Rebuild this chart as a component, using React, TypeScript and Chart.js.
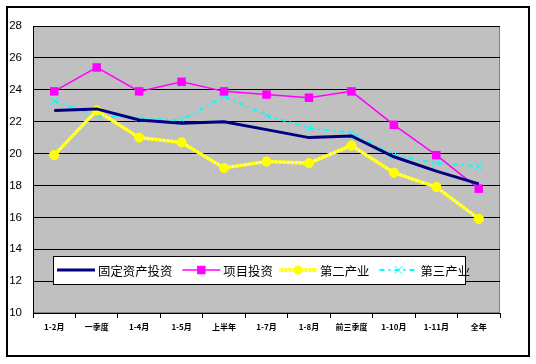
import React, { useEffect, useRef } from 'react';
import { Chart, registerables } from 'chart.js';

Chart.register(...registerables);

const categories = ['1-2月', '一季度', '1-4月', '1-5月', '上半年', '1-7月', '1-8月', '前三季度', '1-10月', '1-11月', '全年'];
const fixedAsset = [22.7, 22.8, 22.1, 21.9, 22.0, 21.5, 21.0, 21.1, 19.8, 18.9, 18.1];
const project = [23.9, 25.4, 23.9, 24.5, 23.9, 23.7, 23.5, 23.9, 21.8, 19.9, 17.8];
const secondary = [19.9, 22.7, 21.0, 20.7, 19.1, 19.5, 19.4, 20.5, 18.8, 17.9, 15.9];
const tertiary = [23.3, 22.4, 22.2, 22.1, 23.6, 22.4, 21.6, 21.3, 19.9, 19.4, 19.2];
const seriesNames = ['固定资产投资', '项目投资', '第二产业', '第三产业'];
const yMin = 10;
const yMax = 28;
const yStep = 2;

const CJK = '"Noto Sans CJK SC", "DejaVu Sans", sans-serif';

function drawMarker(ctx: CanvasRenderingContext2D, style: string, x: number, y: number, r: number, color: string) {
  ctx.save();
  ctx.fillStyle = color;
  ctx.strokeStyle = color;
  ctx.lineWidth = 1;
  ctx.setLineDash([]);
  if (style === 'rect') {
    const s = Math.SQRT1_2 * r;
    ctx.fillRect(x - s, y - s, 2 * s, 2 * s);
  } else if (style === 'circle') {
    ctx.beginPath();
    ctx.arc(x, y, r, 0, Math.PI * 2);
    ctx.fill();
  } else if (style === 'crossRot') {
    const s = Math.SQRT1_2 * r;
    ctx.beginPath();
    ctx.moveTo(x - s, y - s);
    ctx.lineTo(x + s, y + s);
    ctx.moveTo(x - s, y + s);
    ctx.lineTo(x + s, y - s);
    ctx.stroke();
  }
  ctx.restore();
}

const backgroundPlugin = {
  id: 'bgPlot',
  beforeDraw(chart: any) {
    const { ctx, chartArea: a } = chart;
    ctx.save();
    ctx.fillStyle = '#ffffff';
    ctx.fillRect(0, 0, chart.width, chart.height);
    ctx.strokeStyle = '#000000';
    ctx.lineWidth = 2;
    ctx.strokeRect(7, 7, 522, 349);
    ctx.fillStyle = '#C0C0C0';
    ctx.fillRect(a.left, a.top, a.right - a.left, a.bottom - a.top);
    ctx.strokeStyle = '#808080';
    ctx.lineWidth = 1;
    ctx.strokeRect(a.left + 0.5, a.top + 0.5, a.right - a.left - 1, a.bottom - a.top - 1);
    ctx.restore();
  },
};

const yellowOverlayPlugin = {
  id: 'yellowOverlay',
  afterDatasetDraw(chart: any, args: any) {
    if (args.index !== 2) return;
    const { ctx } = chart;
    const pts = args.meta.data;
    ctx.save();
    ctx.strokeStyle = '#ffffff';
    ctx.lineWidth = 1.2;
    ctx.setLineDash([2, 2]);
    ctx.beginPath();
    pts.forEach((p: any, i: number) => {
      if (i === 0) ctx.moveTo(p.x, p.y);
      else ctx.lineTo(p.x, p.y);
    });
    ctx.stroke();
    ctx.restore();
    pts.forEach((p: any) => p.draw(ctx, chart.chartArea));
  },
};

const legendPlugin = {
  id: 'boxLegend',
  afterDraw(chart: any) {
    const { ctx, chartArea: a } = chart;
    const bx = a.left + 20;
    const by = a.top + 230;
    const bw = 412;
    const bh = 28;
    ctx.save();
    ctx.fillStyle = '#ffffff';
    ctx.fillRect(bx, by, bw, bh);
    ctx.strokeStyle = '#000000';
    ctx.lineWidth = 1;
    ctx.strokeRect(bx + 0.5, by + 0.5, bw, bh);
    const cy = by + bh / 2;
    ctx.font = `12.4px ${CJK}`;
    ctx.textBaseline = 'middle';
    let x = bx + 4;
    chart.data.datasets.forEach((ds: any, i: number) => {
      const sampleLen = 38;
      ctx.save();
      ctx.strokeStyle = ds.borderColor;
      ctx.lineWidth = ds.borderWidth;
      ctx.setLineDash(ds.borderDash || []);
      ctx.beginPath();
      ctx.moveTo(x, cy);
      ctx.lineTo(x + sampleLen, cy);
      ctx.stroke();
      if (i === 2) {
        ctx.strokeStyle = '#ffffff';
        ctx.lineWidth = 1.2;
        ctx.setLineDash([2, 2]);
        ctx.beginPath();
        ctx.moveTo(x, cy);
        ctx.lineTo(x + sampleLen, cy);
        ctx.stroke();
      }
      ctx.restore();
      if (ds.pointRadius > 0) {
        drawMarker(ctx, ds.pointStyle, x + sampleLen / 2, cy, ds.pointRadius, ds.borderColor);
      }
      x += sampleLen + 3;
      ctx.fillStyle = '#000000';
      ctx.fillText(ds.label, x, cy + 1);
      x += ctx.measureText(ds.label).width + (i === 1 ? 6 : 10);
    });
    ctx.restore();
  },
};

export default function App() {
  const canvasRef = useRef<HTMLCanvasElement | null>(null);

  useEffect(() => {
    const canvas = canvasRef.current;
    if (!canvas) return;
    const chart = new Chart(canvas, {
      type: 'line',
      data: {
        labels: categories,
        datasets: [
          {
            label: seriesNames[0],
            data: fixedAsset,
            borderColor: '#000080',
            backgroundColor: '#000080',
            borderWidth: 3,
            pointRadius: 0,
            pointStyle: 'circle',
            tension: 0,
          },
          {
            label: seriesNames[1],
            data: project,
            borderColor: '#FF00FF',
            backgroundColor: '#FF00FF',
            borderWidth: 1.5,
            pointRadius: 6,
            pointStyle: 'rect',
            pointBorderWidth: 0,
            tension: 0,
          },
          {
            label: seriesNames[2],
            data: secondary,
            borderColor: '#FFFF00',
            backgroundColor: '#FFFF00',
            borderWidth: 3.5,
            pointRadius: 4.5,
            pointStyle: 'circle',
            pointBorderWidth: 1,
            tension: 0,
          },
          {
            label: seriesNames[3],
            data: tertiary,
            borderColor: '#00FFFF',
            backgroundColor: '#00FFFF',
            borderWidth: 2,
            borderDash: [5, 4, 2, 4],
            pointRadius: 5.5,
            pointStyle: 'crossRot',
            pointBorderWidth: 1,
            tension: 0,
          },
        ] as any,
      },
      options: {
        responsive: false,
        animation: false,
        events: [],
        layout: { padding: { left: 0, top: 26, right: 36, bottom: 0 } },
        plugins: {
          legend: { display: false },
          tooltip: { enabled: false },
        },
        scales: {
          x: {
            offset: true,
            grid: {
              offset: true,
              drawOnChartArea: false,
              drawTicks: true,
              tickLength: 5,
              color: '#000000',
            },
            border: { color: '#000000', width: 1 },
            ticks: {
              color: '#000000',
              font: { family: CJK, size: 8, weight: 'bold' },
              padding: 4,
              maxRotation: 0,
              autoSkip: false,
            },
            afterFit(scale: any) {
              scale.height = 51;
            },
          },
          y: {
            min: yMin,
            max: yMax,
            grid: { color: '#000000', drawTicks: false, lineWidth: 1 },
            border: { color: '#000000', width: 1 },
            ticks: {
              stepSize: yStep,
              color: '#000000',
              font: { family: '"Liberation Sans", Arial, sans-serif', size: 11.5 },
              padding: 11,
            },
            afterFit(scale: any) {
              scale.width = 33;
            },
          },
        },
      } as any,
      plugins: [backgroundPlugin, yellowOverlayPlugin, legendPlugin],
    });
    return () => chart.destroy();
  }, []);

  return (
    <div style={{ position: 'absolute', left: 0, top: 0, width: 536, height: 364 }}>
      <canvas ref={canvasRef} width={536} height={364} style={{ width: 536, height: 364, display: 'block' }} />
    </div>
  );
}
